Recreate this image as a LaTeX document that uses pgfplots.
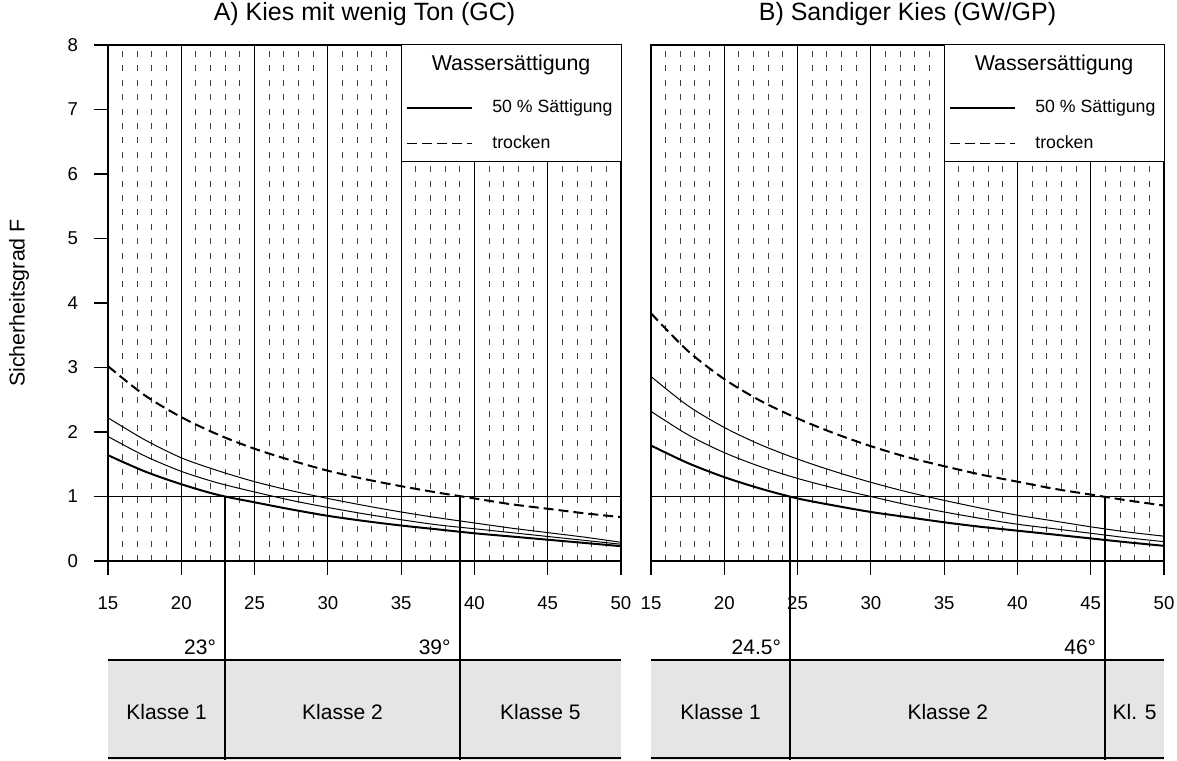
\documentclass[border=0pt]{standalone}
\usepackage{pgfplots}
\pgfplotsset{compat=1.18}
\usepackage{pgfplotstable}
\usepackage{fontspec}
\setmainfont{Liberation Sans}

\pgfplotstableread{
x    thick mid  top  dry
15   1.64  1.93 2.22 3.02
17.5 1.39  1.63 1.88 2.57
20   1.19  1.39 1.60 2.23
22.5 1.025 1.21 1.40 1.96
25   0.91  1.07 1.23 1.74
27.5 0.80  0.94 1.09 1.56
30   0.70  0.83 0.97 1.40
32.5 0.62  0.73 0.86 1.27
35   0.55  0.64 0.76 1.16
37.5 0.49  0.56 0.67 1.06
40   0.43  0.50 0.59 0.97
42.5 0.38  0.44 0.51 0.88
45   0.33  0.38 0.44 0.81
47.5 0.28  0.32 0.37 0.74
50   0.23  0.26 0.29 0.68
}\dataA

\pgfplotstableread{
x    thick mid  top  dry
15   1.79  2.32 2.86 3.84
17.5 1.52  1.96 2.41 3.26
20   1.30  1.68 2.07 2.82
22.5 1.12  1.46 1.80 2.48
25   0.97  1.28 1.58 2.21
27.5 0.86  1.13 1.39 1.98
30   0.76  1.00 1.22 1.78
32.5 0.68  0.87 1.07 1.61
35   0.60  0.76 0.94 1.47
37.5 0.53  0.66 0.82 1.34
40   0.47  0.57 0.71 1.23
42.5 0.41  0.50 0.62 1.12
45   0.35  0.43 0.53 1.03
47.5 0.29  0.36 0.45 0.94
50   0.235 0.30 0.385 0.86
}\dataB

\pgfplotsset{
  panel/.style={
    scale only axis, width=256.5pt, height=258pt,
    xmin=15, xmax=50, ymin=0, ymax=8,
    xtick={15,20,...,50}, minor x tick num=4,
    tick pos=left,
    tick align=outside,
    major tick length=7pt, minor tick length=0pt,
    xmajorgrids, xminorgrids,
    major grid style={black, line width=0.5pt},
    minor grid style={black!75, line width=0.5pt, dash pattern=on 3pt off 4.2pt},
    axis line style={black, line width=0.55pt},
    xtick style={black, line width=0.55pt},
    ytick style={black, line width=0.55pt},
    /pgf/number format/assume math mode=true,
    tick label style={font=\fontsize{9.3}{11}\selectfont},
    xticklabel style={yshift=-7pt, text height=6.7pt, text depth=0pt},
    yticklabel style={xshift=-4.5pt},
    title style={font=\fontsize{12.5}{15}\selectfont, at={(0.5,1)}, anchor=base, yshift=6pt},
    extra y ticks={1}, extra y tick labels={},
    extra y tick style={grid=major, major grid style={black, line width=0.5pt}},
    clip=false,
    legend style={at={(axis description cs:0.582,0.894)}, anchor=north west,
      draw=none, fill=none, inner sep=0pt, outer sep=0pt,
      font=\fontsize{8.85}{10}\selectfont, row sep=9.5pt,
      nodes={inner sep=0pt, text height=6.4pt, text depth=1.9pt},
      /tikz/every odd column/.append style={column sep=9.5pt}},
    legend cell align=left,
    legend image code/.code={\draw[#1] (0pt,0pt) -- (32.5pt,0pt);},
  },
  thickc/.style={black, line width=1pt, smooth, forget plot},
  thinc/.style={black, line width=0.5pt, smooth, forget plot},
  dryc/.style={black, line width=1pt, dash pattern=on 5pt off 2.5pt, smooth, forget plot},
  vline/.style={black, line width=1pt, forget plot},
}

\begin{document}
\begin{tikzpicture}
\useasboundingbox (0,0) rectangle (588.5pt,380pt);

% ---------------- Panel A ----------------
\begin{axis}[panel, at={(54pt,99.5pt)}, anchor=south west,
  title={A) Kies mit wenig Ton (GC)},
  ytick={0,1,...,8},
  ylabel={Sicherheitsgrad F},
  ylabel style={at={(axis description cs:-0.1735,0.5)}, anchor=center, font=\fontsize{10.7}{12}\selectfont},
]
\addplot[thickc] table[x=x,y=thick] {\dataA};
\addplot[thinc] table[x=x,y=mid] {\dataA};
\addplot[thinc] table[x=x,y=top] {\dataA};
\addplot[dryc] table[x=x,y=dry] {\dataA};
% legend box
\fill[white] (axis cs:35,6.2) rectangle (axis cs:50,8);
\draw[black, line width=0.5pt] (axis cs:35,8) -- (axis cs:35,6.2) -- (axis cs:50,6.2);
\node[font=\fontsize{10.7}{12}\selectfont] at (axis cs:42.5,7.69) {Wassersättigung};
\addlegendimage{black, line width=0.9pt}
\addlegendentry{50 \% Sättigung}
\addlegendimage{black, line width=0.9pt, dash pattern=on 5pt off 2.5pt}
\addlegendentry{trocken}
% class boxes
\fill[black!10] (axis cs:15,-1.535) rectangle (axis cs:50,-3.08);
\draw[black, line width=1pt] (axis cs:15,-1.535) -- (axis cs:50,-1.535);
\draw[black, line width=1pt] (axis cs:15,-3.05) -- (axis cs:50,-3.05);
\addplot[vline] coordinates {(23,1) (23,-3.08)};
\addplot[vline] coordinates {(39,1) (39,-3.08)};
\node[anchor=base east, font=\fontsize{10.5}{12}\selectfont] at (axis cs:22.85,-1.457) {23°};
\node[anchor=base east, font=\fontsize{10.5}{12}\selectfont] at (axis cs:38.85,-1.457) {39°};
\node[font=\fontsize{10.5}{12}\selectfont] at (axis cs:19,-2.34) {Klasse 1};
\node[font=\fontsize{10.5}{12}\selectfont] at (axis cs:31,-2.34) {Klasse 2};
\node[font=\fontsize{10.5}{12}\selectfont] at (axis cs:44.5,-2.34) {Klasse 5};
\end{axis}

% ---------------- Panel B ----------------
\begin{axis}[panel, at={(325.5pt,99.5pt)}, anchor=south west,
  title={B) Sandiger Kies (GW/GP)},
  ytick=\empty,
  extra y tick style={grid=major, major tick length=0pt, major grid style={black, line width=0.5pt}},
]
\addplot[thickc] table[x=x,y=thick] {\dataB};
\addplot[thinc] table[x=x,y=mid] {\dataB};
\addplot[thinc] table[x=x,y=top] {\dataB};
\addplot[dryc] table[x=x,y=dry] {\dataB};
% legend box
\fill[white] (axis cs:35,6.2) rectangle (axis cs:50,8);
\draw[black, line width=0.5pt] (axis cs:35,8) -- (axis cs:35,6.2) -- (axis cs:50,6.2);
\node[font=\fontsize{10.7}{12}\selectfont] at (axis cs:42.5,7.69) {Wassersättigung};
\addlegendimage{black, line width=0.9pt}
\addlegendentry{50 \% Sättigung}
\addlegendimage{black, line width=0.9pt, dash pattern=on 5pt off 2.5pt}
\addlegendentry{trocken}
% class boxes
\fill[black!10] (axis cs:15,-1.535) rectangle (axis cs:50,-3.08);
\draw[black, line width=1pt] (axis cs:15,-1.535) -- (axis cs:50,-1.535);
\draw[black, line width=1pt] (axis cs:15,-3.05) -- (axis cs:50,-3.05);
\addplot[vline] coordinates {(24.5,1) (24.5,-3.08)};
\addplot[vline] coordinates {(46,1) (46,-3.08)};
\node[anchor=base east, font=\fontsize{10.5}{12}\selectfont] at (axis cs:24.35,-1.457) {24.5°};
\node[anchor=base east, font=\fontsize{10.5}{12}\selectfont] at (axis cs:45.85,-1.457) {46°};
\node[font=\fontsize{10.5}{12}\selectfont] at (axis cs:19.75,-2.34) {Klasse 1};
\node[font=\fontsize{10.5}{12}\selectfont] at (axis cs:35.25,-2.34) {Klasse 2};
\node[font=\fontsize{10.5}{12}\selectfont] at (axis cs:48,-2.34) {Kl. 5};
\end{axis}
\end{tikzpicture}
\end{document}
